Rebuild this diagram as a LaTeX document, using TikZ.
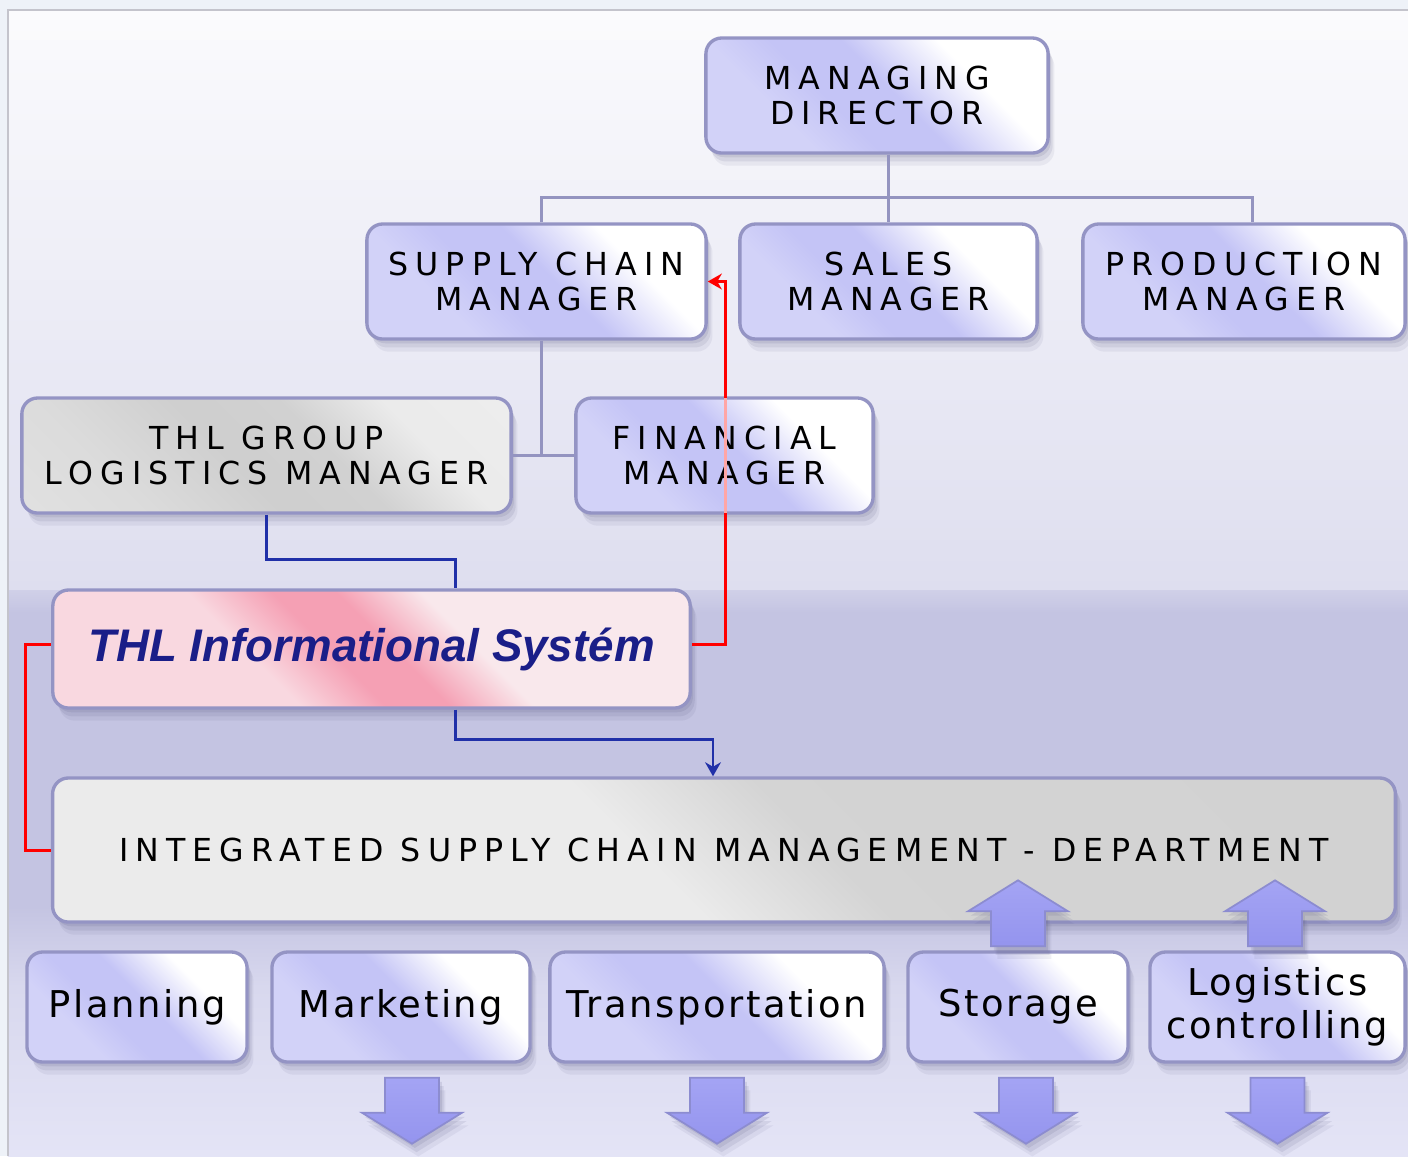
\documentclass[tikz,border=0pt]{standalone}
\usepackage{fontspec}
\setmainfont{DejaVu Sans}
\newfontfamily\capsfont[LetterSpace=22.5]{DejaVu Sans}
\newfontfamily\deptfont[LetterSpace=7]{DejaVu Sans}
\newfontfamily\sysfont{Liberation Sans}
\usetikzlibrary{arrows.meta,shadows}

\definecolor{lav}{HTML}{C4C4F6}
\definecolor{lavlight}{HTML}{D2D2F8}
\definecolor{edge}{HTML}{9494C4}
\definecolor{orggrey}{HTML}{9494C0}
\definecolor{isblue}{HTML}{2030A8}
\definecolor{sysred}{HTML}{FF0000}
\definecolor{textblue}{HTML}{1A1E88}
\definecolor{fatA}{HTML}{A4A4F4}
\definecolor{fatB}{HTML}{9494EE}
\definecolor{fatedge}{HTML}{8C8CD0}
\definecolor{bgtop}{HTML}{FBFBFD}
\definecolor{bgmid}{HTML}{DEDEEF}
\definecolor{margin}{HTML}{EEF2F8}
\definecolor{frame}{HTML}{C4C4CC}
\definecolor{pinkA}{HTML}{F9D8E0}
\definecolor{pinkB}{HTML}{F5A0B4}
\definecolor{pinkC}{HTML}{F9E8EC}
\definecolor{bandA}{HTML}{E4E4F6}
\definecolor{bandB}{HTML}{D8D8EE}
\definecolor{bandC}{HTML}{C4C4E2}
\definecolor{bandD}{HTML}{D0D0E8}
\definecolor{shadowc}{HTML}{50507A}

% box fills
\pgfdeclarehorizontalshading{lavshade}{100bp}{color(0bp)=(lavlight); color(32bp)=(lavlight); color(42bp)=(lav); color(53bp)=(lav); color(68bp)=(white); color(100bp)=(white)}
\pgfdeclarehorizontalshading{greyshade}{100bp}{color(0bp)=(black!10); color(30bp)=(black!14); color(46bp)=(black!19); color(58bp)=(black!18); color(70bp)=(black!8); color(100bp)=(black!6)}
\pgfdeclarehorizontalshading{deptshade}{100bp}{color(0bp)=(black!8); color(46bp)=(black!8); color(55bp)=(black!17); color(100bp)=(black!18)}
\pgfdeclarehorizontalshading{pinkshade}{100bp}{color(0bp)=(pinkA); color(38bp)=(pinkA); color(46bp)=(pinkB); color(52bp)=(pinkB); color(60bp)=(pinkC); color(100bp)=(pinkC)}
\pgfdeclareverticalshading{lowband}{100bp}{color(0bp)=(bandA); color(25bp)=(bandA); color(40bp)=(bandB); color(47bp)=(bandC); color(73bp)=(bandC); color(75bp)=(bandD); color(100bp)=(bandD)}

\newcommand{\fatarrow}[2]{%
  \begin{scope}[shift={(#1)}, yscale=#2]
    \shade[fatarr] (-27,0) -- (-27,-35) -- (-50,-35) -- (0,-66) -- (50,-35) -- (27,-35) -- (27,0) -- cycle;
  \end{scope}}

\begin{document}
\begin{tikzpicture}[x=0.01cm, y=-0.01cm,
  soft/.style={drop shadow={fill=shadowc, opacity=0.13, shadow xshift=0.8pt, shadow yshift=-1.2pt},
    drop shadow={fill=shadowc, opacity=0.11, shadow xshift=1.3pt, shadow yshift=-2.4pt},
    drop shadow={fill=shadowc, opacity=0.08, shadow xshift=1.8pt, shadow yshift=-3.6pt}},
  box/.style={rounded corners=4.5pt, draw=edge, line width=0.95pt, shade, shading angle=45, soft},
  mgr/.style={box, shading=lavshade, minimum height=1.15cm, align=center,
    font=\capsfont\fontsize{9}{9.7}\selectfont},
  greymgr/.style={mgr, shading=greyshade},
  sysbox/.style={box, shading=pinkshade, minimum height=1.18cm,
    text=textblue, font=\sysfont\bfseries\itshape\fontsize{13}{14}\selectfont},
  deptbox/.style={box, shading=deptshade, minimum height=1.44cm,
    font=\capsfont\fontsize{9}{9.7}\selectfont},
  unit/.style={box, shading=lavshade, minimum height=1.10cm, align=center,
    font=\deptfont\fontsize{10.5}{12.2}\selectfont},
  orgline/.style={draw=orggrey, line width=0.85pt},
  isline/.style={draw=isblue, line width=0.85pt},
  sysline/.style={draw=sysred, line width=0.85pt},
  fatarr/.style={top color=fatA, bottom color=fatB, draw=fatedge, line width=0.5pt, soft}]

\useasboundingbox (0,0) rectangle (1408,1156);

% background
\fill[margin] (0,0) rectangle (1408,1156);
\shade[top color=bgtop, bottom color=bgmid] (8,10) rectangle (1408,590);
\shade[shading=lowband] (8,590) rectangle (1408,1156);
\draw[frame, line width=0.6pt] (8,1156) -- (8,10) -- (1408,10);

% managers
\node[mgr, minimum width=3.42cm] (md) at (877,95.5) {MANAGING\\DIRECTOR};
\node[mgr, minimum width=3.39cm] (scm) at (536.5,281.5) {SUPPLY CHAIN\\MANAGER};
\node[mgr, minimum width=2.97cm] (sales) at (888.5,281.5) {SALES\\MANAGER};
\node[mgr, minimum width=3.22cm] (prod) at (1244,281.5) {PRODUCTION\\MANAGER};
\node[greymgr, minimum width=4.89cm] (thlgrp) at (266.5,455.5) {THL GROUP\\LOGISTICS MANAGER};
\node[mgr, minimum width=2.97cm] (fin) at (724.5,455.5) {FINANCIAL\\MANAGER};

% system and department
\node[sysbox, minimum width=6.37cm] (is) at (371.5,649) {THL Informational Systém};
\node[deptbox, minimum width=13.42cm] (isc) at (724,850) {INTEGRATED SUPPLY CHAIN MANAGEMENT - DEPARTMENT};

% units
\node[unit, minimum width=2.20cm] (planning) at (137,1007) {Planning};
\node[unit, minimum width=2.58cm] (marketing) at (401,1007) {Marketing};
\node[unit, minimum width=3.34cm] (transport) at (717,1007) {Transportation};
\node[unit, minimum width=2.20cm] (storage) at (1018,1007) {Storage};
\node[unit, minimum width=2.55cm] (logctrl) at (1277.5,1007) {Logistics\\controlling};

% connectors
\coordinate (bus) at (0,197);
\coordinate (scmtop) at ([xshift=0.05cm]scm.north);
\coordinate (prodtop) at ([xshift=0.08cm]prod.north);
\coordinate (redx) at ([xshift=0.34cm, yshift=0.05cm]is.east);

\draw[orgline] (md.south -| sales.north) -- (sales.north);
\draw[orgline] (scmtop) |- (bus -| prodtop) -- (prodtop);
\draw[orgline] ([xshift=0.05cm]scm.south) -- ([xshift=0.05cm]scm.south |- thlgrp.east);
\draw[orgline] (thlgrp.east) -- (fin.west);

\draw[isline] (thlgrp.south) -- ++(0,45) -| ([xshift=0.835cm]is.north);
\draw[isline, -{Stealth[length=4pt, width=4.5pt]}] ([xshift=0.835cm]is.south) -- ++(0,30) -| ([xshift=-0.11cm]isc.north);

\draw[sysline, -{Stealth[length=4pt, width=4.5pt]}] ([yshift=0.05cm]is.east) -- (redx) |- (scm.east);
\draw[sysline] ([yshift=0.05cm]is.west) -- ++(-26,0) |- (isc.west);
\draw[sysred!35, line width=0.85pt] ([yshift=-0.5pt]fin.north -| redx) -- ([yshift=0.5pt]fin.south -| redx);

% block arrows
\fatarrow{[yshift=0.04cm]storage.north}{1}
\fatarrow{[xshift=-0.025cm, yshift=0.04cm]logctrl.north}{1}
\fatarrow{[xshift=0.11cm, yshift=-0.14cm]marketing.south}{-1}
\fatarrow{[yshift=-0.14cm]transport.south}{-1}
\fatarrow{[xshift=0.08cm, yshift=-0.14cm]storage.south}{-1}
\fatarrow{[yshift=-0.14cm]logctrl.south}{-1}

\end{tikzpicture}
\end{document}
